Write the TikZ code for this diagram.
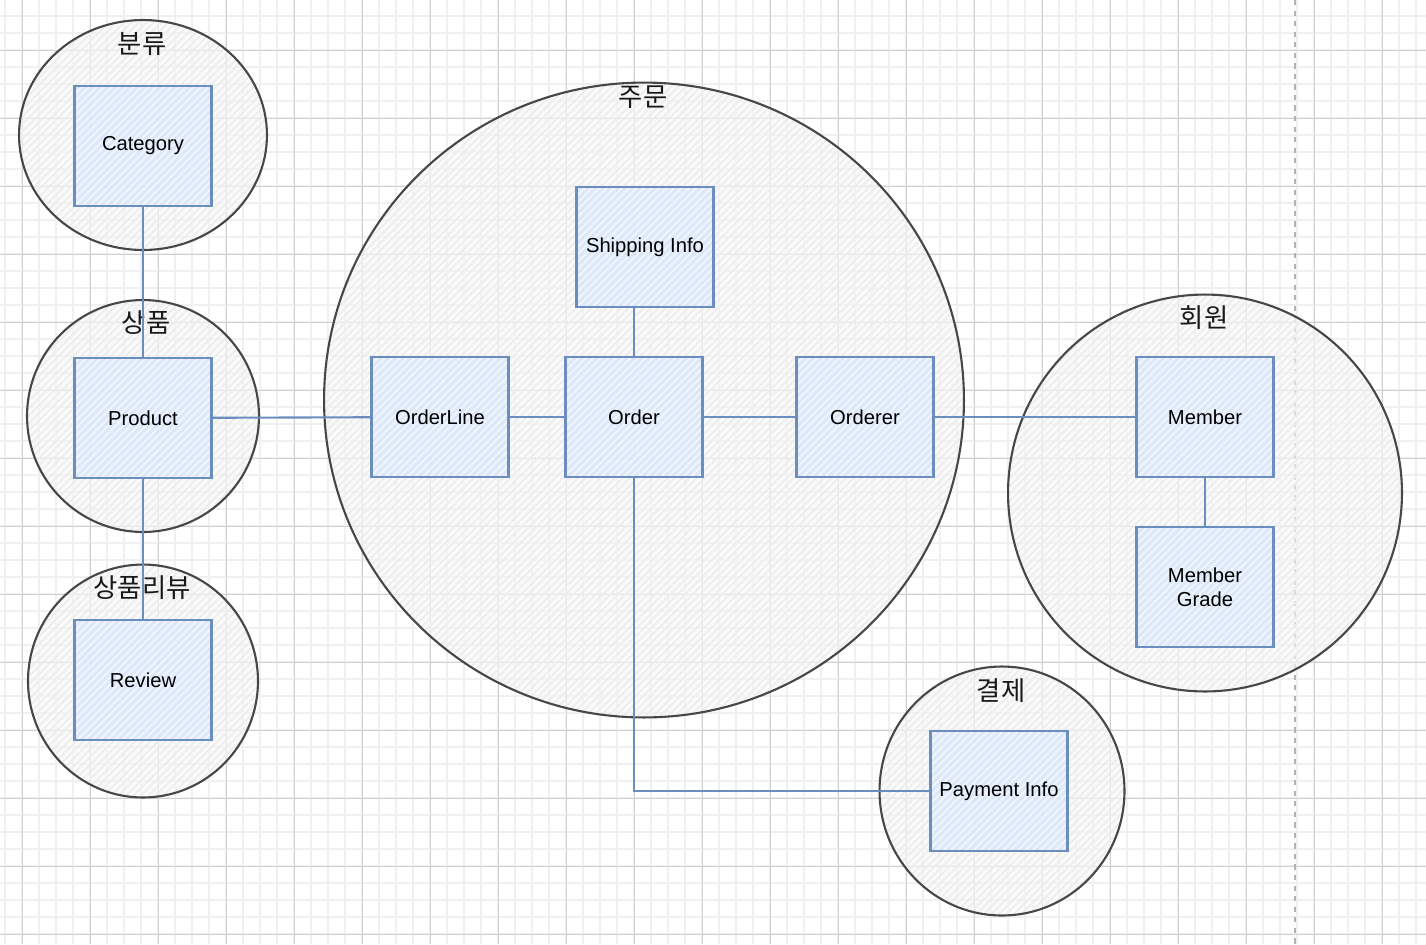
\documentclass[tikz,border=0pt]{standalone}
\usepackage{fontspec}
\setmainfont{Liberation Sans}
\newfontfamily\kr{Noto Sans CJK KR}
\usetikzlibrary{shapes.geometric,patterns.meta}

\definecolor{entline}{HTML}{6C8EBF}
\definecolor{entfill}{HTML}{D4E4FA}
\definecolor{zoneline}{HTML}{474747}
\definecolor{zonefill}{HTML}{F7F7F7}
\definecolor{gridminor}{HTML}{F0F0F0}
\definecolor{gridmajor}{HTML}{D0D0D0}

\begin{document}
\begin{tikzpicture}[x=0.02cm, y=-0.02cm,
    zone/.style={ellipse, draw=zoneline, line width=1.2pt, inner sep=0pt, outer sep=0pt,
        preaction={fill=zonefill, fill opacity=0.6},
        preaction={pattern={Lines[angle=45,distance=3pt,line width=1pt]}, pattern color=black!7}},
    zonetitle/.style={font=\kr\fontsize{15}{17}\selectfont, text=black!90},
    ent/.style={rectangle, draw=entline, line width=1.2pt, align=center,
        minimum width=2.74cm, minimum height=2.4cm,
        preaction={fill=entfill, fill opacity=0.75},
        preaction={pattern={Lines[angle=45,distance=3pt,line width=1pt]}, pattern color=white!70!entfill},
        font=\fontsize{11.5}{13.5}\selectfont},
    link/.style={draw=entline, line width=1.2pt}]
    \useasboundingbox (0,0) rectangle (1426,944);
    \fill[white] (0,0) rectangle (1426,944);

    % grid
    \foreach \x in {5,22,...,1426}
        \draw[gridminor, line width=0.7pt] (\x,0) -- (\x,944);
    \foreach \y in {16,33,...,944}
        \draw[gridminor, line width=0.7pt] (0,\y) -- (1426,\y);
    \foreach \x in {22,90,...,1426}
        \draw[gridmajor, line width=0.5pt] (\x,0) -- (\x,944);
    \foreach \y in {50,118,...,944}
        \draw[gridmajor, line width=0.5pt] (0,\y) -- (1426,\y);
    \draw[black!30, line width=0.9pt, dashed] (1295,0) -- (1295,944);

    % zones
    \node[zone, minimum width=4.96cm, minimum height=4.6cm] (zCat) at (143,135) {};
    \node[zone, minimum width=4.64cm, minimum height=4.64cm] (zProd) at (143,416) {};
    \node[zone, minimum width=4.6cm, minimum height=4.66cm] (zRev) at (143,681) {};
    \node[zone, minimum width=12.8cm, minimum height=12.7cm] (zOrd) at (644,400) {};
    \node[zone, minimum width=7.88cm, minimum height=7.94cm] (zMem) at (1205,493) {};
    \node[zone, minimum width=4.9cm, minimum height=4.98cm] (zPay) at (1002,791) {};

    \node[zonetitle] (tCat) at (142,44) {분류};
    \node[zonetitle] (tProd) at (146,323) {상품};
    \node[zonetitle] (tRev) at (142,588) {상품리뷰};
    \node[zonetitle] (tOrd) at (643,97) {주문};
    \node[zonetitle] (tMem) at (1204,318) {회원};
    \node[zonetitle] (tPay) at (1001,691) {결제};

    % entities
    \node[ent] (category) at (143,146) {Category};
    \node[ent] (product) at (143,418) {Product};
    \node[ent] (review) at (143,680) {Review};
    \node[ent] (shipping) at (645,247) {Shipping Info};
    \node[ent] (orderline) at (440,417) {OrderLine};
    \node[ent] (order) at (634,417) {Order};
    \node[ent] (orderer) at (865,417) {Orderer};
    \node[ent] (member) at (1205,417) {Member};
    \node[ent] (grade) at (1205,587) {Member\\Grade};
    \node[ent] (payment) at (999,791) {Payment Info};

    % links
    \draw[link] (category) -- (product);
    \draw[link] (product) -- (review);
    \draw[link] (product) -- (orderline);
    \draw[link] (orderline) -- (order);
    \draw[link] (order) -- (orderer);
    \draw[link] (orderer) -- (member);
    \draw[link] (order.north) -- (order.north |- shipping.south);
    \draw[link] (member) -- (grade);
    \draw[link] (order.south) |- (payment.west);
\end{tikzpicture}
\end{document}
